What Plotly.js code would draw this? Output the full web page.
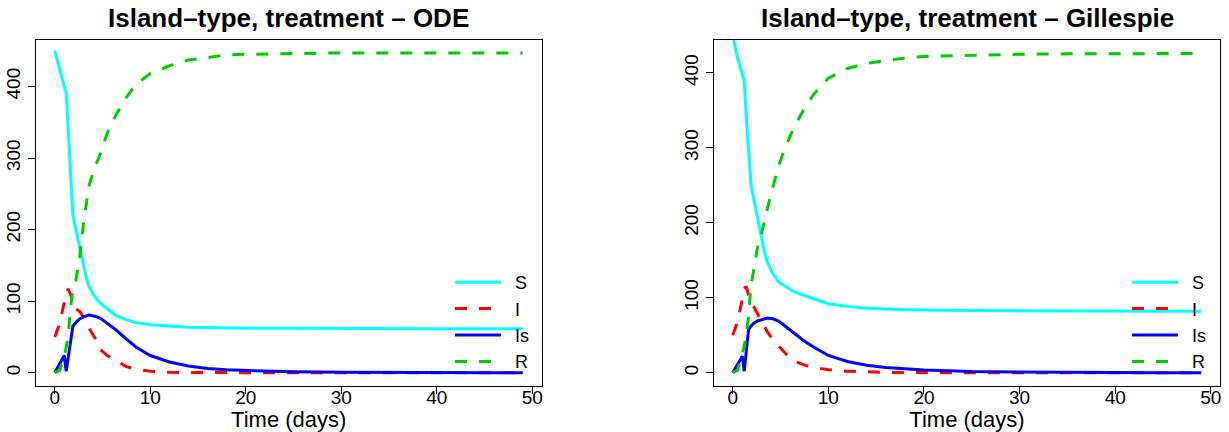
<!DOCTYPE html>
<html>
<head>
<meta charset="utf-8">
<script src="https://cdn.plot.ly/plotly-3.0.1.min.js"></script>
<style>html,body{margin:0;padding:0;background:#fff;}#chart{width:1229px;height:432px;}</style>
</head>
<body>
<div id="chart"></div>
<script>
// Time grid (days)
const time = [0, 0.5, 1, 1.2, 1.4, 1.65, 1.9, 2.2, 2.6, 3, 3.3, 3.6, 4.2, 4.8, 5.5, 6.4, 7.5, 8.5, 10, 12, 14, 16, 18, 20, 25, 30, 35, 40, 45, 49];

// ODE panel
const S_ode  = [450, 424, 400, 392, 340, 279, 220, 201, 176, 150, 133, 120, 106, 97, 89, 80, 74, 70, 67, 65, 63.5, 63, 62.5, 62, 62, 61.5, 61.5, 61.5, 61.5, 61.5];
const I_ode  = [50, 68, 98, 112, 117, 110, 100, 89, 86, 78, 70, 62, 49, 32, 24, 17, 8.5, 5, 2, 0.5, 0.2, 0.1, 0, 0, 0, 0, 0, 0, 0, 0];
const Is_ode = [0, 12, 24, 2, 20, 42, 65, 70, 75, 78, 79.5, 80.5, 79, 76, 69, 60, 47, 36, 24, 15, 9.5, 6, 4, 3, 1.2, 0.5, 0.2, 0.1, 0, 0];
const R_ode  = [0, 3, 22, 35, 50, 90, 115, 128, 160, 208, 238, 262, 287, 307, 335, 360, 385, 403, 418, 429, 437, 441, 444, 445, 446.5, 447, 447, 447, 447, 447];

// Gillespie panel
const S_gil  = [450, 420, 398, 390, 345, 295, 252, 232, 205, 180, 162, 148, 132, 121, 115, 108, 103, 99, 92, 88.5, 86, 85, 84, 83.5, 83, 82.5, 82, 82, 82, 82];
const I_gil  = [50, 68, 98, 112, 115, 105, 94, 88, 78, 70, 62, 55, 44, 35, 26, 16, 10, 7, 4, 2, 1, 0.5, 0.2, 0, 0, 0, 0, 0, 0, 0];
const Is_gil = [0, 11, 22, 2, 30, 57, 62, 66, 69, 71, 72, 73, 72, 69, 62, 53, 42, 34, 23, 15, 10, 7, 5, 3.5, 1.5, 0.7, 0.3, 0.1, 0, 0];
const R_gil  = [0, 3, 25, 35, 50, 75, 115, 140, 168, 185, 202, 218, 248, 276, 301, 327, 353, 372, 393, 406, 413, 417, 420, 422, 424, 425, 425.5, 426, 426, 426];

const seriesNames = ["S", "I", "Is", "R"];
const panelTitles = ["Island\u2013type, treatment \u2013 ODE", "Island\u2013type, treatment \u2013 Gillespie"];
const xTicks = [0, 10, 20, 30, 40, 50];
const yTicks = [0, 100, 200, 300, 400];

const colors = ["#00FFFF", "#FF0000", "#0000FF", "#00CD00"];
const dashes = ["solid", "12px,12px", "solid", "12px,12px"];
const FONT = "Liberation Sans, Arial, Helvetica, sans-serif";

const panels = [[S_ode, I_ode, Is_ode, R_ode], [S_gil, I_gil, Is_gil, R_gil]];
const traces = [];
panels.forEach((p, pi) => {
  p.forEach((vals, si) => {
    traces.push({
      x: time, y: vals, type: "scatter", mode: "lines",
      name: "\u2002" + seriesNames[si],
      xaxis: pi === 0 ? "x" : "x2",
      yaxis: pi === 0 ? "y" : "y2",
      legend: pi === 0 ? "legend" : "legend2",
      line: {color: colors[si], width: 3, dash: dashes[si]},
      hoverinfo: "skip"
    });
  });
});

const W = 1229, H = 432;
const yDom = [(H - 385.5) / H, (H - 40) / H];
const xDom1 = [36 / W, 541.5 / W];
const xDom2 = [714 / W, 1220 / W];

function xax(dom) {
  return {
    domain: dom, range: [-1.96, 50.96], tickvals: xTicks, ticktext: xTicks.map(String),
    showline: true, mirror: true, linecolor: "#000", linewidth: 1,
    ticks: "outside", ticklen: 7, tickwidth: 1, tickcolor: "#000",
    showgrid: false, zeroline: false, ticklabelstandoff: -12,
    tickfont: {family: FONT, size: 19, color: "#000"},
    title: {text: "Time (days)", font: {family: FONT, size: 22, color: "#000"}, standoff: 2}
  };
}
function yax(range, anchor) {
  return {
    domain: yDom, range: range, tickvals: yTicks, ticktext: yTicks.map(String),
    anchor: anchor,
    showline: true, mirror: true, linecolor: "#000", linewidth: 1,
    ticks: "outside", ticklen: 7, tickwidth: 1, tickcolor: "#000",
    showgrid: false, zeroline: false, tickangle: -90,
    tickfont: {family: FONT, size: 19, color: "#000"}
  };
}
function leg(xpx) {
  return {
    x: xpx / W, xanchor: "left", y: (H - 264) / H, yanchor: "top",
    bgcolor: "rgba(0,0,0,0)", borderwidth: 0, itemwidth: 46,
    font: {family: FONT, size: 18, color: "#000"}
  };
}

const layout = {
  width: W, height: H,
  margin: {l: 0, r: 0, t: 0, b: 0},
  paper_bgcolor: "#fff", plot_bgcolor: "#fff",
  showlegend: true,
  xaxis: Object.assign(xax(xDom1), {anchor: "y"}),
  yaxis: yax([-17.9, 465], "x"),
  xaxis2: Object.assign(xax(xDom2), {anchor: "y2"}),
  yaxis2: yax([-17.1, 444], "x2"),
  legend: leg(450),
  legend2: leg(1127),
  annotations: [
    {text: "<b>" + panelTitles[0] + "</b>", x: (xDom1[0] + xDom1[1]) / 2, y: (H - 18) / H, xref: "paper", yref: "paper",
     xanchor: "center", yanchor: "middle", showarrow: false, font: {family: FONT, size: 26, color: "#000"}},
    {text: "<b>" + panelTitles[1] + "</b>", x: (xDom2[0] + xDom2[1]) / 2, y: (H - 18) / H, xref: "paper", yref: "paper",
     xanchor: "center", yanchor: "middle", showarrow: false, font: {family: FONT, size: 26, color: "#000"}}
  ]
};

Plotly.newPlot("chart", traces, layout, {staticPlot: true, displayModeBar: false});
</script>
</body>
</html>
